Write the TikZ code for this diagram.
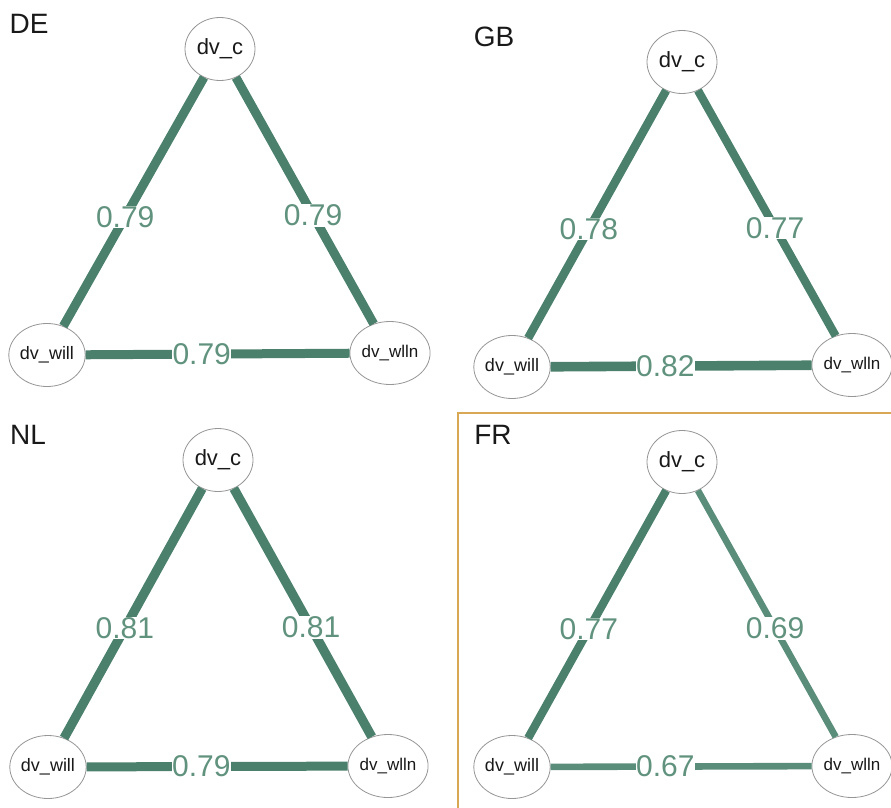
\documentclass[tikz,border=0pt]{standalone}
\usepackage{fontspec}
\setmainfont{Liberation Sans}
\usepackage{tikz}
\usetikzlibrary{shapes.geometric}
\usepackage{xcolor}
\definecolor{corrgreen}{RGB}{74,128,108}
\definecolor{corrpale}{RGB}{90,142,122}
\definecolor{labgreen}{RGB}{96,146,126}
\definecolor{framegold}{RGB}{216,168,84}
\definecolor{nodegrey}{RGB}{150,150,150}

\begin{document}
\begin{tikzpicture}[x=1pt,y=-1pt,
  var/.style={ellipse,draw=nodegrey,fill=white,line width=0.8pt,
    minimum width=70pt,minimum height=63pt,inner sep=0pt,text=black!90,
    font=\fontsize{#1}{#1}\selectfont},
  corr/.style={draw=corrgreen,line width=#1pt},
  lab/.style={fill=white,inner sep=0.5pt,text=labgreen,font=\fontsize{30}{30}\selectfont},
  country/.style={text=black!90,font=\fontsize{28}{28}\selectfont}
]
\useasboundingbox (0,0) rectangle (891,808);
% frame round the FR panel
\draw[framegold,line width=1.6pt] (458,413) rectangle (895,812);

% DE
\node[country] (de) at (29,24) {DE};
\node[var=22] (de-c) at (220,49) {dv\_c};
\node[var=18] (de-will) at (47,355) {dv\_will};
\node[var=17] (de-wlln) at (390,353) {dv\_wlln};
\draw[corr=9] (de-c) -- node[lab,pos=0.56]{0.79} (de-will);
\draw[corr=9] (de-c) -- node[lab,pos=0.56]{0.79} (de-wlln);
\draw[corr=9] (de-will) -- node[lab,pos=0.44]{0.79} (de-wlln);

% GB
\node[country] (gb) at (494,37) {GB};
\node[var=22] (gb-c) at (682,62) {dv\_c};
\node[var=18] (gb-will) at (512,367) {dv\_will};
\node[var=17] (gb-wlln) at (852,365) {dv\_wlln};
\draw[corr=8.5] (gb-c) -- node[lab,pos=0.56]{0.78} (gb-will);
\draw[corr=8.3] (gb-c) -- node[lab,pos=0.56]{0.77} (gb-wlln);
\draw[corr=9.6] (gb-will) -- node[lab,pos=0.44]{0.82} (gb-wlln);

% NL
\node[country] (nl) at (28,435) {NL};
\node[var=22] (nl-c) at (218,460) {dv\_c};
\node[var=18] (nl-will) at (48,767) {dv\_will};
\node[var=17] (nl-wlln) at (388,766) {dv\_wlln};
\draw[corr=9.3] (nl-c) -- node[lab,pos=0.56]{0.81} (nl-will);
\draw[corr=9.3] (nl-c) -- node[lab,pos=0.56]{0.81} (nl-wlln);
\draw[corr=9] (nl-will) -- node[lab,pos=0.44]{0.79} (nl-wlln);

% FR
\node[country] (fr) at (493,435) {FR};
\node[var=22] (fr-c) at (682,462) {dv\_c};
\node[var=18] (fr-will) at (512,767) {dv\_will};
\node[var=17] (fr-wlln) at (852,766) {dv\_wlln};
\draw[corr=8.3] (fr-c) -- node[lab,pos=0.56]{0.77} (fr-will);
\draw[corr=6.6,draw=corrpale] (fr-c) -- node[lab,pos=0.56]{0.69} (fr-wlln);
\draw[corr=6.6,draw=corrpale] (fr-will) -- node[lab,pos=0.44]{0.67} (fr-wlln);
\end{tikzpicture}
\end{document}
